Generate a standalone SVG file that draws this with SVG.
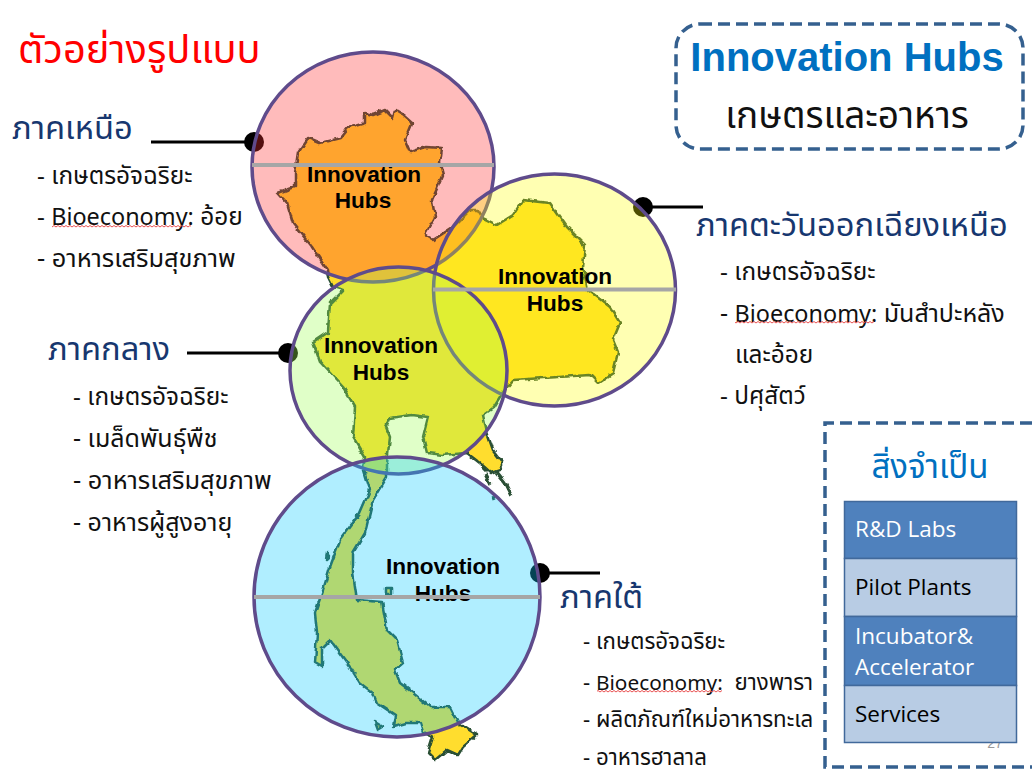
<svg xmlns="http://www.w3.org/2000/svg" width="1032" height="776" viewBox="0 0 1032 776">
<style>
.th{font-family:"Noto Sans Thai","Tahoma","Noto Sans","DejaVu Sans",sans-serif}
.h{font-size:32.700px;fill:#17376f}
.li{font-size:24.400px;fill:#111}
.wide{font-size:25.400px}
.mid{font-size:25px}
.ls{font-size:22.300px;fill:#111}
.bio-n{font-size:23.400px}
.bio-s{font-size:20.800px}
.ih{font-family:"Liberation Sans",Arial,sans-serif;font-weight:700;font-size:22.600px;fill:#000;text-anchor:middle}
.ring{stroke:#5f4b8b;stroke-width:3.5}
.bar{stroke:#a6a6a6;stroke-width:4}
.lead{stroke:#000;stroke-width:3}
.dash{fill:none;stroke:#35608f;stroke-width:3.5;stroke-dasharray:12 6}
.row{font-family:"Open Sans","Noto Sans",sans-serif;font-size:22.500px}
</style>
<defs>
<filter id="rough" x="-5%" y="-5%" width="110%" height="110%"><feTurbulence type="fractalNoise" baseFrequency="0.12" numOctaves="2" seed="4"/><feDisplacementMap in="SourceGraphic" scale="5" xChannelSelector="R" yChannelSelector="G"/><feGaussianBlur stdDeviation="0.4"/></filter>
<pattern id="squiggle" width="4" height="3" patternUnits="userSpaceOnUse"><path d="M0 2 2 .5 4 2" fill="none" stroke="#e85050" stroke-width="1"/></pattern>
</defs>
<rect width="1032" height="776" fill="#fff"/>
<g id="map" filter="url(#rough)" fill="#ffdd2d" stroke="#2b5035" stroke-width="2.500" stroke-linejoin="round">
<path d="M278 193 295 187 295 173 298 153 308 138 320 143 340 138 348 128 365 123 365 113 373 115 385 110 393 118 395 110 403 115 412 123 405 140 410 152 425 147 442 148 440 163 443 175 432 200 435 217 425 235 433 240 453 227 470 210 478 210 483 218 497 225 513 215 523 200 550 203 567 227 585 245 583 267 588 290 610 307 620 323 613 340 618 352 613 373 598 383 590 375 543 378 513 380 503 392 493 408 483 415 487 433 493 450 503 463 500 470 491 473 480 463 467 453 443 455 427 453 423 437 428 417 412 415 390 418 386 427 390 437 387 463 387 477 373 500 365 533 353 553 353 573 357 600 382 602 387 630 397 640 403 663 395 670 400 683 413 693 430 707 450 707 458 723 477 735 463 747 458 755 447 750 435 760 428 753 433 737 423 733 420 723 407 723 393 727 395 715 377 703 373 693 360 683 350 667 330 640 322 648 322 667 315 663 317 633 315 613 323 590 330 567 340 540 360 513 370 490 363 467 365 457 353 437 355 407 343 387 320 362 313 342 328 332 330 303 343 290 333 287 328 277 327 270 312 247 293 223 287 203Z"/>
<path d="M327 552l2 5-3 3zM386 588h5v6h-5zM375 722l8 5-5 3z"/>
<path fill="none" stroke-width="3" d="M497 472 505 482 512 496M482 466 488 472M485 474 490 484M493 497 494 500"/>
</g>
<g id="connectors">
<line class="lead" x1="151" y1="142" x2="250" y2="142"/>
<line class="lead" x1="645" y1="207" x2="703" y2="207"/>
<line class="lead" x1="187" y1="353" x2="285" y2="353"/>
<line class="lead" x1="540" y1="573" x2="600" y2="573"/>
<circle cx="254" cy="142" r="10"/>
<circle cx="643" cy="207" r="10"/>
<circle cx="288" cy="353" r="10"/>
<circle cx="540" cy="573" r="10"/>
</g>
<g id="hub-north"><ellipse class="ring" cx="373" cy="167" rx="121" ry="115" fill="#ff3232" fill-opacity=".33"/></g>
<g id="hub-northeast"><ellipse class="ring" cx="554.500" cy="290" rx="121" ry="116" fill="#ffff00" fill-opacity=".3"/></g>
<g id="hub-central"><ellipse class="ring" cx="398.500" cy="370.500" rx="108.500" ry="103.500" fill="#a0ff58" fill-opacity=".33"/></g>
<g id="hub-south"><ellipse class="ring" cx="397" cy="597" rx="143" ry="140" fill="#0fcbff" fill-opacity=".33"/></g>
<g id="hub-labels">
<text class="ih" x="364" y="182">Innovation</text><text class="ih" x="363" y="208">Hubs</text>
<text class="ih" x="555" y="284">Innovation</text><text class="ih" x="555" y="311">Hubs</text>
<text class="ih" x="381" y="353">Innovation</text><text class="ih" x="381" y="380">Hubs</text>
<text class="ih" x="443" y="574">Innovation</text><text class="ih" x="443" y="601">Hubs</text>
</g>
<g id="bars">
<line class="bar" x1="252" y1="165" x2="494" y2="165"/>
<line class="bar" x1="433" y1="289.500" x2="676" y2="289.500"/>
<line class="bar" x1="254" y1="597" x2="540" y2="597"/>
</g>
<g id="title"><text class="th" x="18" y="63" font-size="39.800" fill="#ff0000">ตัวอย่างรูปแบบ</text></g>
<g id="list-north" class="th">
<text class="h" x="12" y="139">ภาคเหนือ</text>
<text class="li" x="37" y="184">- เกษตรอัจฉริยะ</text>
<text class="li" x="37" y="225">- <tspan class="bio-n">Bioeconomy:</tspan> อ้อย</text>
<text class="li wide" x="37" y="267">- อาหารเสริมสุขภาพ</text>
</g>
<g id="list-northeast" class="th">
<text class="h" x="696" y="236">ภาคตะวันออกเฉียงเหนือ</text>
<text class="li" x="720" y="280">- เกษตรอัจฉริยะ</text>
<text class="li mid" x="720" y="322">- <tspan class="bio-n">Bioeconomy:</tspan> มันสำปะหลัง</text>
<text class="li" x="735" y="363">และอ้อย</text>
<text class="li" x="720" y="404">- ปศุสัตว์</text>
</g>
<g id="list-central" class="th">
<text class="h" x="48" y="360">ภาคกลาง</text>
<text class="li" x="73" y="405">- เกษตรอัจฉริยะ</text>
<text class="li mid" x="73" y="447">- เมล็ดพันธุ์พืช</text>
<text class="li wide" x="73" y="489">- อาหารเสริมสุขภาพ</text>
<text class="li mid" x="73" y="531">- อาหารผู้สูงอายุ</text>
</g>
<g id="list-south" class="th">
<text class="h" x="560" y="608">ภาคใต้</text>
<text class="ls" x="583" y="649">- เกษตรอัจฉริยะ</text>
<text class="ls" x="583" y="690" xml:space="preserve">- <tspan class="bio-s">Bioeconomy:</tspan>  ยางพารา</text>
<text class="ls" x="583" y="727">- ผลิตภัณฑ์ใหม่อาหารทะเล</text>
<text class="ls" x="583" y="765">- อาหารฮาลาล</text>
</g>
<g id="spell-marks" fill="url(#squiggle)">
<rect x="52" y="225" width="139" height="3"/>
<rect x="735" y="321" width="139" height="3"/>
<rect x="597" y="690" width="125" height="3"/>
</g>
<g id="hubs-box">
<rect class="dash" x="676" y="24" width="347" height="125" rx="24"/>
<text x="847" y="71" text-anchor="middle" font-family="Liberation Sans,Arial,sans-serif" font-weight="700" font-size="40" fill="#0070c0">Innovation Hubs</text>
<text class="th" x="847" y="128" text-anchor="middle" font-size="37" fill="#111">เกษตรและอาหาร</text>
</g>
<g id="needs-box">
<path class="dash" d="M1032 423H825V767H1032"/>
<text class="th" x="930" y="478" text-anchor="middle" font-size="33" fill="#0070c0">สิ่งจำเป็น</text>
<text x="995" y="748" text-anchor="middle" font-family="Liberation Sans,Arial,sans-serif" font-size="14" fill="#999">27</text>
</g>
<g id="needs-table" stroke="#41699b" stroke-width="1.500">
<rect x="844.500" y="501.500" width="172" height="57" fill="#4f81bd"/>
<rect x="844.500" y="558.500" width="172" height="58" fill="#b8cce4"/>
<rect x="844.500" y="616.500" width="172" height="69" fill="#4f81bd"/>
<rect x="844.500" y="685.500" width="172" height="57" fill="#b8cce4"/>
</g>
<g id="needs-labels" class="row">
<text x="855" y="537" fill="#fff">R&amp;D Labs</text>
<text x="855" y="595" fill="#000">Pilot Plants</text>
<text x="855" y="644" fill="#fff">Incubator&amp;</text>
<text x="855" y="675" fill="#fff">Accelerator</text>
<text x="855" y="722" fill="#000">Services</text>
</g>
</svg>
